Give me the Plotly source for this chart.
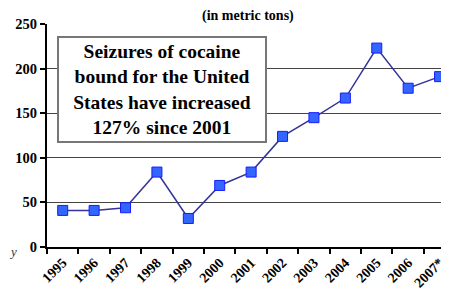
import plotly.graph_objects as go

years = ["1995", "1996", "1997", "1998", "1999", "2000", "2001",
         "2002", "2003", "2004", "2005", "2006", "2007*"]
seizures = [41, 41, 44, 84, 32, 69, 84, 124, 145, 167, 223, 178, 191]
y_ticks = [0, 50, 100, 150, 200, 250]

font_serif = "Liberation Serif, Times New Roman, serif"

fig = go.Figure()
fig.add_trace(go.Scatter(
    x=years, y=seizures, mode="lines+markers",
    line=dict(color="#333399", width=1.5),
    marker=dict(symbol="square", size=10, color="#3366FF",
                line=dict(color="#1a1aff", width=1)),
    showlegend=False, cliponaxis=False,
))

# page body has an 8px margin, so the figure is offset by (8, 8)
fig.update_layout(
    width=441, height=287,
    margin=dict(l=39, r=0, t=16, b=48),
    paper_bgcolor="white", plot_bgcolor="white",
    font=dict(family=font_serif, color="black"),
    xaxis=dict(
        type="category", range=[-0.5, 12.3], tickson="boundaries",
        showgrid=False, showline=True, linecolor="black", linewidth=2,
        ticks="outside", ticklen=5, tickcolor="black", tickwidth=1.5,
        tickangle=-45, tickfont=dict(size=14, family=font_serif, weight="bold"),
        automargin=False,
    ),
    yaxis=dict(
        range=[0, 250], tickvals=y_ticks, showgrid=True,
        gridcolor="#444444", gridwidth=1,
        showline=True, linecolor="black", linewidth=2,
        ticks="outside", ticklen=5, tickcolor="black", tickwidth=1.5,
        tickfont=dict(size=14.5, family=font_serif, weight="bold"),
        zeroline=False, automargin=False,
    ),
    annotations=[
        dict(text="<b>(in metric tons)</b>", x=0.5, y=1.0, xref="paper", yref="paper",
             xanchor="center", yanchor="bottom", yshift=-2, showarrow=False,
             font=dict(size=14, family=font_serif)),
        dict(text="<b>Seizures of cocaine<br>bound for the United<br>States have increased<br>127% since 2001</b>",
             xref="x domain", yref="y", x=0.025, y=237, xanchor="left", yanchor="top",
             showarrow=False, align="center", width=200,
             font=dict(size=19.5, family=font_serif),
             bordercolor="#777777", borderwidth=2, borderpad=3, bgcolor="white"),
        dict(text="<i>y</i>", xref="paper", yref="paper", x=-0.1, y=-0.02,
             xanchor="left", yanchor="middle", showarrow=False,
             font=dict(size=13, family=font_serif, color="#333333")),
    ],
)
fig.write_html("out.html")
